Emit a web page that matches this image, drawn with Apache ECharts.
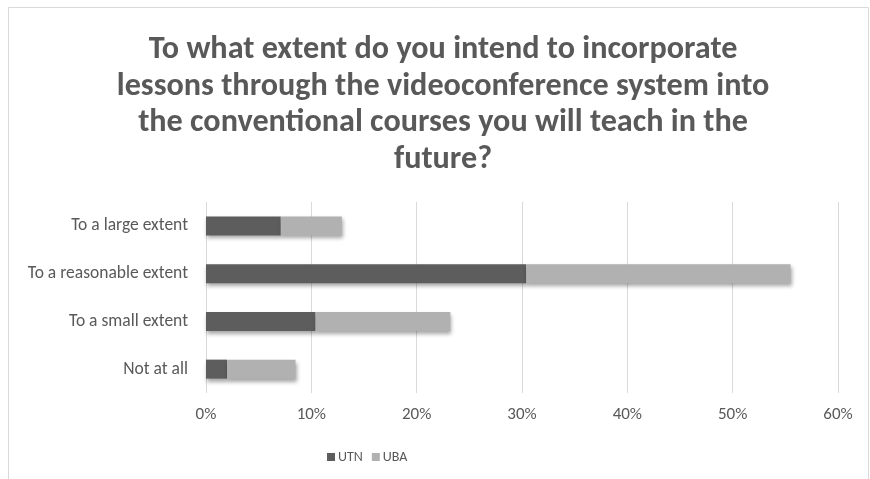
<!DOCTYPE html>
<html>
<head>
<meta charset="utf-8">
<script src="https://cdn.jsdelivr.net/npm/echarts@6/dist/echarts.min.js"></script>
<style>html,body{margin:0;padding:0;background:#fff}#c{width:870px;height:479px}</style>
</head>
<body>
<div id="c"></div>
<script>
const titleText = "To what extent do you intend to incorporate\nlessons through the videoconference system into\nthe conventional courses you will teach in the\nfuture?";
const categories = ["Not at all", "To a small extent", "To a reasonable extent", "To a large extent"];
const seriesNames = ["UTN", "UBA"];
const utnValues = [2.0, 10.4, 30.4, 7.1];
const ubaValues = [6.5, 12.8, 25.1, 5.8];
const xTicks = [0, 10, 20, 30, 40, 50, 60];

const chart = echarts.init(document.getElementById('c'), null, {renderer: 'canvas'});
const font = "Calibri, Carlito, 'Liberation Sans', sans-serif";
const shadow = {shadowBlur: 4, shadowOffsetX: 1, shadowOffsetY: 3, shadowColor: 'rgba(0,0,0,0.35)'};
chart.setOption({
  animation: false,
  backgroundColor: '#fff',
  graphic: [{type: 'rect', shape: {x: 8.5, y: 7.5, width: 860, height: 480}, style: {fill: 'none', stroke: '#d9d9d9', lineWidth: 1}, z: -1}],
  title: {
    text: titleText, left: 438, textAlign: 'center', top: 27,
    textStyle: {fontFamily: font, fontSize: 32.2, fontWeight: 'bold', color: '#595959', lineHeight: 36.5}
  },
  legend: {
    data: seriesNames, top: 445, left: 322, itemWidth: 8, itemHeight: 8, itemGap: 9, icon: 'rect',
    textStyle: {fontFamily: font, fontSize: 14, color: '#595959', padding: [0, 0, 0, -2]}
  },
  grid: {left: 206, right: 32, top: 202, bottom: 86},
  xAxis: {
    type: 'value', min: 0, max: 60, interval: 10,
    axisLine: {show: false}, axisTick: {show: false},
    axisLabel: {fontFamily: font, fontSize: 17, color: '#595959', margin: 13, formatter: v => v + '%'},
    splitLine: {lineStyle: {color: '#d9d9d9', width: 1}}
  },
  yAxis: {
    type: 'category', data: categories,
    axisLine: {show: false}, axisTick: {show: false},
    axisLabel: {fontFamily: font, fontSize: 17.5, color: '#595959', margin: 18}
  },
  series: [
    {name: seriesNames[0], type: 'bar', stack: 'a', data: utnValues, barWidth: 19,
     itemStyle: Object.assign({color: '#5d5d5d'}, shadow)},
    {name: seriesNames[1], type: 'bar', stack: 'a', data: ubaValues, barWidth: 19,
     itemStyle: Object.assign({color: '#b1b1b1'}, shadow)}
  ]
});
</script>
</body>
</html>
